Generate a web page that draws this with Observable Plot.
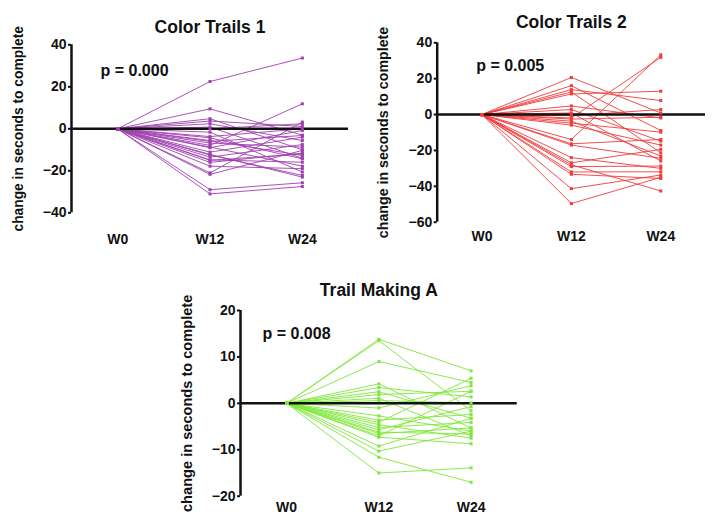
<!DOCTYPE html>
<html>
<head>
<meta charset="utf-8">
<script src="https://cdn.jsdelivr.net/npm/d3@7"></script>
<script src="https://cdn.jsdelivr.net/npm/@observablehq/plot@0.6"></script>
<style>
  html, body { margin: 0; padding: 0; background: #fff; }
  #root { position: relative; width: 714px; height: 522px; overflow: hidden; background: #fff; }
  .panel { position: absolute; }
  .panel svg { overflow: visible; }
</style>
</head>
<body>
<div id="root"></div>
<script>
// ---- Data ----
const weeks = [0, 12, 24];
const weekLabels = ["W0", "W12", "W24"];
const baselineChange = 0;
const yLabel = "change in seconds to complete";

// Color Trails 1
const ct1Title = "Color Trails 1";
const ct1P = "p = 0.000";
const ct1Ticks = [-40, -20, 0, 20, 40];
const ct1W12 = [22.5, 9.5, 4.8, 3.7, 2.4, 0.8, 0, -1.6, -3.7, -5.6, -6.8, -7.9, -8.7, -11.1, -12.2, -13.5, -14.8, -16, -17.8, -21, -21.7, -29, -31, -12.5, -9, -4.3, -6, -15];
const ct1W24 = [33.7, -3, -10, 1.1, -5.6, -14, 2.4, -20.6, 0, -12.7, -8.7, 11.9, -17.8, -4, -23, -7.5, -15.9, -11.6, -19, 3.2, -10.3, -25.7, -27.5, -22.2, -0.8, -14.3, -3.2, -12];

// Color Trails 2
const ct2Title = "Color Trails 2";
const ct2P = "p = 0.005";
const ct2Ticks = [-60, -40, -20, 0, 20, 40];
const ct2W12 = [20.7, 16.1, 13.9, 12.6, 11.5, 4.8, 2.8, 0.9, -0.6, -1.9, -3.7, -4.8, -5.9, -13.9, -16.3, -17, -24, -26.9, -28, -29, -32, -33.3, -41.3, -49.6, -2.5];
const ct2W24 = [0.9, -8.9, 7.8, -21.3, 13, -1.9, -14.8, -25.9, 2.8, 31.9, -23.1, -9.8, -17, 33.3, -13.9, -24.4, -30, -19.4, -42.6, -28.7, -31.9, -35.6, -33.7, -35, -1.5];

// Trail Making A
const tmaTitle = "Trail Making A";
const tmaP = "p = 0.008";
const tmaTicks = [-20, -10, 0, 10, 20];
const tmaW12 = [13.8, 13.5, 9, 4.2, 3.4, 2.5, 1.9, 1.1, 0.6, -1, -2.7, -3.6, -4.1, -4.6, -5.2, -5.7, -6.2, -7, -7.3, -9.2, -10.3, -11.6, -15, -6.5];
const tmaW24 = [7, -1.6, 4.5, -5.3, 1.4, -3.2, 2.6, -7, 0.1, 3.8, -6, -2.4, 5.4, -7.5, -4.1, -0.7, -6.6, 2.6, -8.7, -3.2, -6, -17, -13.9, -5.3];

// ---- Build ----
function rowsFrom(w12, w24) {
  const rows = [];
  w12.forEach((v, i) => {
    rows.push({subject: i, week: weeks[0], value: baselineChange});
    rows.push({subject: i, week: weeks[1], value: v});
    rows.push({subject: i, week: weeks[2], value: w24[i]});
  });
  return rows;
}

const FONT = "'Liberation Sans', Arial, Helvetica, sans-serif";

function panel(cfg) {
  const rows = rowsFrom(cfg.w12, cfg.w24);
  const xDomain = [-6, 30];
  const yDomain = [cfg.ticks[0], cfg.ticks[cfg.ticks.length - 1]];
  const chart = Plot.plot({
    width: cfg.width,
    height: cfg.height,
    marginLeft: cfg.ml, marginRight: cfg.mr, marginTop: cfg.mt, marginBottom: cfg.mb,
    style: {fontFamily: FONT, fontWeight: "bold", color: "#111", background: "transparent", overflow: "visible"},
    x: {domain: xDomain, axis: null},
    y: {domain: yDomain, axis: null},
    marks: [
      Plot.axisX({ticks: weeks, tickFormat: (d) => weekLabels[weeks.indexOf(d)], tickSize: 0, tickPadding: cfg.xPad, fontSize: 14, fontWeight: "bold", label: null}),
      Plot.axisY({ticks: cfg.ticks, tickSize: 3, tickPadding: 2, strokeWidth: 2, fontSize: 14, fontWeight: "bold", label: null}),
      Plot.ruleX([xDomain[0]], {y1: yDomain[0], y2: yDomain[1], strokeWidth: 2.5, stroke: "#111"}),
      Plot.line(rows, {x: "week", y: "value", z: "subject", stroke: cfg.color, strokeWidth: 1, strokeOpacity: 0.9}),
      Plot.ruleY([0], {x1: xDomain[0], x2: xDomain[1], strokeWidth: 2.5, stroke: "#111"}),
      Plot.dot(rows, {x: "week", y: "value", symbol: "square", r: 1.7, fill: cfg.color, stroke: "none"}),
      Plot.text([cfg.title], {frameAnchor: "top", dy: cfg.titleDy, fontSize: 17.5, fontWeight: "bold", fill: "#111"}),
      Plot.text([cfg.p], {frameAnchor: "top-left", dx: cfg.pDx, dy: cfg.pDy, textAnchor: "start", lineAnchor: "middle", fontSize: 16, fontWeight: "bold", fill: "#111"}),
      Plot.text([yLabel], {frameAnchor: "left", dx: cfg.labDx, rotate: -90, textAnchor: "middle", lineAnchor: "middle", fontSize: cfg.labSize, fontWeight: "bold", fill: "#111"})
    ]
  });
  const div = document.createElement("div");
  div.className = "panel";
  div.style.left = cfg.left + "px";
  div.style.top = cfg.top + "px";
  div.appendChild(chart);
  document.getElementById("root").appendChild(div);
}

panel({title: ct1Title, p: ct1P, ticks: ct1Ticks, w12: ct1W12, w24: ct1W24, color: "#a040b0",
  left: 0, top: 0, width: 360, height: 255, ml: 71, mr: 12, mt: 44.3, mb: 42.7,
  xPad: 21, titleDy: -24, pDx: 29, pDy: 26, labDx: -53, labSize: 13.8});

panel({title: ct2Title, p: ct2P, ticks: ct2Ticks, w12: ct2W12, w24: ct2W24, color: "#f03c3c",
  left: 360, top: 0, width: 354, height: 250, ml: 76.7, mr: 9, mt: 42.3, mb: 28.3,
  xPad: 9, titleDy: -27, pDx: 39, pDy: 23, labDx: -54, labSize: 14.2});

panel({title: tmaTitle, p: tmaP, ticks: tmaTicks, w12: tmaW12, w24: tmaW24, color: "#7ee83a",
  left: 160, top: 255, width: 380, height: 267, ml: 80, mr: 23.3, mt: 55, mb: 26.3,
  xPad: 6, titleDy: -27, pDx: 22, pDy: 23, labDx: -53, labSize: 14.6});
</script>
</body>
</html>
